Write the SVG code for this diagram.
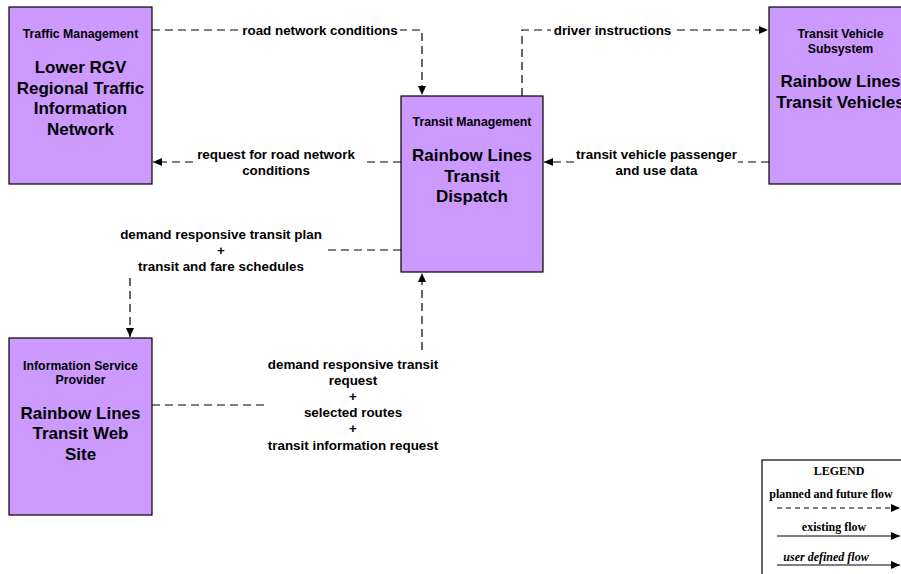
<svg xmlns="http://www.w3.org/2000/svg" width="901" height="574" viewBox="0 0 901 574">
<defs>
<marker id="arr" markerWidth="9" markerHeight="8" refX="9" refY="4" orient="auto" markerUnits="userSpaceOnUse">
<path d="M0,0 L9,4 L0,8 Z" fill="#000"/>
</marker>
<style>
.box{fill:#CC99FF;stroke:#000;stroke-width:1.2}
.t{font-family:"Liberation Sans",Arial,sans-serif;font-weight:bold;fill:#000;text-anchor:middle}
.sub{font-size:12.3px}
.big{font-size:17px}
.lbl{font-size:13.4px}
.flow{fill:none;stroke:#000;stroke-width:1.2;stroke-dasharray:8 5}
.bg{fill:#fff}
.lg{font-family:"Liberation Serif","Times New Roman",serif;font-weight:bold;font-size:12px;text-anchor:middle;fill:#000}
</style>
</defs>
<rect width="901" height="574" fill="#fff"/>

<g id="connectors">
<path class="flow" d="M152,30 H422 V95" marker-end="url(#arr)"/>
<path class="flow" d="M401,162 H153" marker-end="url(#arr)"/>
<path class="flow" d="M522,96 V30 H768" marker-end="url(#arr)"/>
<path class="flow" d="M769,162 H544" marker-end="url(#arr)"/>
<path class="flow" d="M401,250 H130 V337" marker-end="url(#arr)"/>
<path class="flow" d="M152,405 H422 V273" marker-end="url(#arr)"/>

<g id="lbl1">
<rect class="bg" x="240" y="22" width="160" height="16"/>
<text class="t lbl" x="320" y="34.7">road network conditions</text>
</g>
<g id="lbl2">
<rect class="bg" x="196" y="146" width="166" height="32"/>
<text class="t lbl" x="276" y="158.7">request for road network</text>
<text class="t lbl" x="276" y="174.7">conditions</text>
</g>
<g id="lbl3">
<rect class="bg" x="551" y="22" width="123" height="16"/>
<text class="t lbl" x="612.5" y="34.7">driver instructions</text>
</g>
<g id="lbl4">
<rect class="bg" x="574" y="146" width="164" height="32"/>
<text class="t lbl" x="656.5" y="158.7">transit vehicle passenger</text>
<text class="t lbl" x="656.5" y="174.7">and use data</text>
</g>
<g id="lbl5">
<rect class="bg" x="116" y="226" width="207" height="48"/>
<text class="t lbl" x="221" y="238.7">demand responsive transit plan</text>
<text class="t lbl" x="221" y="254.7">+</text>
<text class="t lbl" x="221" y="270.7">transit and fare schedules</text>
</g>
<g id="lbl6">
<rect class="bg" x="265" y="353" width="180" height="101"/>
<text class="t lbl" x="353" y="368.7">demand responsive transit</text>
<text class="t lbl" x="353" y="384.7">request</text>
<text class="t lbl" x="353" y="400.7">+</text>
<text class="t lbl" x="353" y="416.7">selected routes</text>
<text class="t lbl" x="353" y="432.7">+</text>
<text class="t lbl" x="353" y="449.7">transit information request</text>
</g>
</g>

<g id="traffic-management">
<rect class="box" x="9" y="7" width="143" height="177"/>
<text class="t sub" x="80.5" y="38.3">Traffic Management</text>
<text class="t big" x="80.5" y="73">Lower RGV</text>
<text class="t big" x="80.5" y="93.5">Regional Traffic</text>
<text class="t big" x="80.5" y="114">Information</text>
<text class="t big" x="80.5" y="134.5">Network</text>
</g>

<g id="transit-management">
<rect class="box" x="401" y="96" width="142" height="176"/>
<text class="t sub" x="472" y="126.3">Transit Management</text>
<text class="t big" x="472" y="161">Rainbow Lines</text>
<text class="t big" x="472" y="181.5">Transit</text>
<text class="t big" x="472" y="202">Dispatch</text>
</g>

<g id="transit-vehicle">
<rect class="box" x="769" y="7" width="143" height="177"/>
<text class="t sub" x="840.5" y="38.3">Transit Vehicle</text>
<text class="t sub" x="840.5" y="53.3">Subsystem</text>
<text class="t big" x="840.5" y="87">Rainbow Lines</text>
<text class="t big" x="840.5" y="107.5">Transit Vehicles</text>
</g>

<g id="info-service-provider">
<rect class="box" x="9" y="338" width="143" height="177"/>
<text class="t sub" x="80.5" y="370.3">Information Service</text>
<text class="t sub" x="80.5" y="384.3">Provider</text>
<text class="t big" x="80.5" y="419">Rainbow Lines</text>
<text class="t big" x="80.5" y="439">Transit Web</text>
<text class="t big" x="80.5" y="459.5">Site</text>
</g>

<g id="legend">
<rect x="762" y="460" width="150" height="130" fill="#fff" stroke="#000" stroke-width="1.2"/>
<text class="lg" x="839" y="475.2">LEGEND</text>
<text class="lg" x="831" y="498.2">planned and future flow</text>
<path d="M777,508 H900" fill="none" stroke="#000" stroke-width="1.2" stroke-dasharray="5 4" marker-end="url(#arr)"/>
<text class="lg" x="834" y="531.2">existing flow</text>
<path d="M777,536 H900" fill="none" stroke="#000" stroke-width="1.2" marker-end="url(#arr)"/>
<text class="lg" x="826" y="561.2" font-style="italic">user defined flow</text>
<path d="M777,565 H900" fill="none" stroke="#000" stroke-width="1.2" marker-end="url(#arr)"/>
</g>
</svg>
